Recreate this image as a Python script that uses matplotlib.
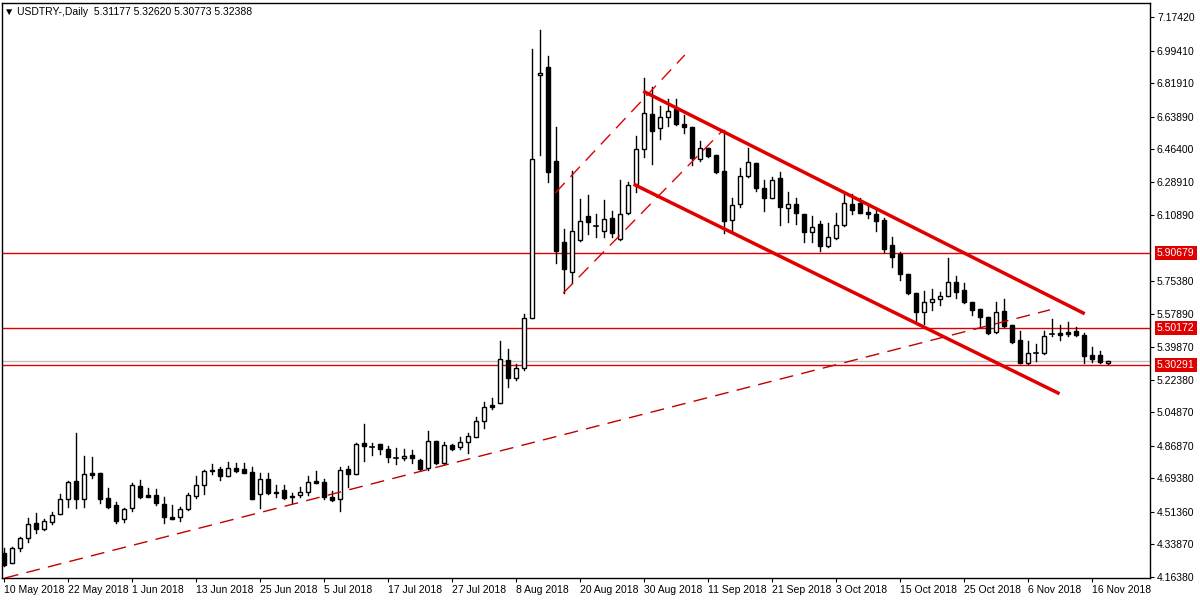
"""USDTRY daily candles with channel and trend lines, MT4 style."""
import matplotlib
matplotlib.use("Agg")
import matplotlib.pyplot as plt
from matplotlib.patches import Rectangle
from matplotlib.transforms import blended_transform_factory

plt.rcParams["font.family"] = ["Liberation Sans", "DejaVu Sans"]

# daily OHLC, 10 May 2018 .. 20 Nov 2018 (trading days only)
opens = [4.293, 4.239, 4.320, 4.374, 4.454, 4.422, 4.460, 4.503, 4.583, 4.680,
         4.583, 4.723, 4.723, 4.588, 4.551, 4.476, 4.535, 4.653, 4.604, 4.604,
         4.556, 4.486, 4.486, 4.530, 4.599, 4.658, 4.733, 4.744, 4.707, 4.750,
         4.744, 4.728, 4.610, 4.691, 4.621, 4.631, 4.594, 4.604, 4.621, 4.680,
         4.675, 4.594, 4.583, 4.744, 4.717, 4.884, 4.862, 4.878, 4.852, 4.803,
         4.803, 4.820, 4.793, 4.750, 4.895, 4.776, 4.873, 4.862, 4.889, 4.916,
         5.002, 5.088, 5.099, 5.330, 5.233, 5.287, 5.556, 6.862, 6.905, 6.400,
         5.965, 5.803, 5.975, 6.104, 6.050, 6.024, 6.093, 5.981, 6.120, 6.276,
         6.464, 6.653, 6.577, 6.636, 6.680, 6.599, 6.583, 6.411, 6.470, 6.432,
         6.346, 6.083, 6.169, 6.319, 6.389, 6.255, 6.201, 6.309, 6.147, 6.169,
         6.115, 6.018, 6.061, 5.943, 5.986, 6.056, 6.169, 6.174, 6.126, 6.115,
         6.083, 5.948, 5.900, 5.793, 5.690, 5.588, 5.642, 5.658, 5.674, 5.749,
         5.706, 5.642, 5.604, 5.561, 5.481, 5.593, 5.518, 5.438, 5.314, 5.368,
         5.368, 5.470, 5.475, 5.481, 5.486, 5.465, 5.357, 5.357, 5.31177]
highs = [4.320, 4.325, 4.379, 4.481, 4.508, 4.476, 4.513, 4.610, 4.680, 4.938,
         4.814, 4.809, 4.723, 4.642, 4.567, 4.535, 4.669, 4.685, 4.642, 4.637,
         4.594, 4.551, 4.540, 4.615, 4.707, 4.739, 4.771, 4.755, 4.782, 4.776,
         4.776, 4.755, 4.723, 4.723, 4.658, 4.658, 4.615, 4.647, 4.707, 4.733,
         4.691, 4.626, 4.755, 4.760, 4.884, 4.986, 4.884, 4.878, 4.868, 4.857,
         4.852, 4.846, 4.798, 4.949, 4.895, 4.889, 4.878, 4.916, 4.938, 5.024,
         5.104, 5.126, 5.432, 5.389, 5.309, 5.577, 7.002, 7.104, 6.964, 6.583,
         6.034, 6.346, 6.195, 6.217, 6.115, 6.190, 6.131, 6.298, 6.287, 6.534,
         6.846, 6.798, 6.696, 6.733, 6.733, 6.647, 6.583, 6.507, 6.470, 6.432,
         6.567, 6.201, 6.362, 6.470, 6.389, 6.298, 6.314, 6.341, 6.233, 6.201,
         6.115, 6.104, 6.077, 6.067, 6.120, 6.233, 6.223, 6.201, 6.169, 6.147,
         6.093, 5.991, 5.911, 5.793, 5.690, 5.701, 5.712, 5.696, 5.878, 5.782,
         5.744, 5.642, 5.604, 5.561, 5.642, 5.658, 5.518, 5.486, 5.432, 5.416,
         5.486, 5.550, 5.518, 5.534, 5.508, 5.475, 5.400, 5.379, 5.32620]
lows = [4.223, 4.239, 4.304, 4.352, 4.400, 4.417, 4.449, 4.503, 4.540, 4.535,
        4.540, 4.696, 4.560, 4.535, 4.454, 4.460, 4.519, 4.588, 4.594, 4.551,
        4.454, 4.476, 4.465, 4.524, 4.588, 4.610, 4.717, 4.685, 4.707, 4.728,
        4.723, 4.583, 4.535, 4.610, 4.594, 4.583, 4.562, 4.594, 4.604, 4.669,
        4.583, 4.573, 4.519, 4.647, 4.717, 4.787, 4.820, 4.825, 4.782, 4.771,
        4.793, 4.776, 4.739, 4.739, 4.771, 4.771, 4.846, 4.852, 4.830, 4.916,
        4.965, 5.067, 5.099, 5.185, 5.222, 5.276, 5.556, 6.432, 6.287, 5.852,
        5.690, 5.744, 5.970, 6.008, 5.991, 5.991, 5.991, 5.975, 6.115, 6.233,
        6.421, 6.384, 6.518, 6.588, 6.594, 6.550, 6.379, 6.400, 6.421, 6.335,
        6.013, 6.024, 6.153, 6.314, 6.239, 6.131, 6.201, 6.056, 6.072, 6.061,
        5.965, 5.965, 5.916, 5.938, 5.981, 6.050, 6.115, 6.120, 6.093, 6.024,
        5.911, 5.830, 5.760, 5.685, 5.534, 5.524, 5.599, 5.626, 5.674, 5.664,
        5.637, 5.572, 5.508, 5.470, 5.475, 5.508, 5.422, 5.314, 5.309, 5.325,
        5.363, 5.459, 5.438, 5.459, 5.459, 5.314, 5.320, 5.314, 5.30773]
closes = [4.228, 4.320, 4.374, 4.449, 4.422, 4.465, 4.497, 4.583, 4.675, 4.583,
          4.718, 4.712, 4.583, 4.540, 4.465, 4.530, 4.658, 4.594, 4.594, 4.562,
          4.486, 4.476, 4.530, 4.604, 4.658, 4.733, 4.739, 4.707, 4.750, 4.733,
          4.723, 4.583, 4.691, 4.615, 4.615, 4.588, 4.599, 4.621, 4.675, 4.669,
          4.594, 4.578, 4.739, 4.717, 4.878, 4.868, 4.860, 4.852, 4.809, 4.805,
          4.814, 4.803, 4.744, 4.895, 4.776, 4.873, 4.852, 4.889, 4.921, 5.002,
          5.078, 5.078, 5.336, 5.233, 5.287, 5.556, 6.411, 6.873, 6.341, 5.916,
          5.819, 6.024, 6.077, 6.072, 6.052, 6.088, 6.013, 6.115, 6.271, 6.464,
          6.658, 6.561, 6.636, 6.669, 6.599, 6.583, 6.416, 6.470, 6.427, 6.341,
          6.077, 6.163, 6.319, 6.395, 6.255, 6.201, 6.298, 6.153, 6.169, 6.120,
          6.018, 6.045, 5.943, 5.991, 6.056, 6.174, 6.136, 6.120, 6.115, 6.077,
          5.927, 5.884, 5.793, 5.690, 5.588, 5.642, 5.658, 5.674, 5.749, 5.696,
          5.642, 5.599, 5.561, 5.475, 5.588, 5.513, 5.427, 5.314, 5.368, 5.370,
          5.459, 5.468, 5.465, 5.470, 5.465, 5.352, 5.336, 5.320, 5.32388]

date_pos = [0, 8, 16, 24, 32, 40, 48, 56, 64, 72, 80, 88, 96, 104, 112, 120, 128, 136]
date_labels = ["10 May 2018", "22 May 2018", "1 Jun 2018", "13 Jun 2018", "25 Jun 2018",
               "5 Jul 2018", "17 Jul 2018", "27 Jul 2018", "8 Aug 2018", "20 Aug 2018",
               "30 Aug 2018", "11 Sep 2018", "21 Sep 2018", "3 Oct 2018", "15 Oct 2018",
               "25 Oct 2018", "6 Nov 2018", "16 Nov 2018"]
price_ticks = [7.17420, 6.99410, 6.81910, 6.63890, 6.46400, 6.28910, 6.10890,
               5.75380, 5.57890, 5.39870, 5.22380, 5.04870, 4.86870, 4.69380,
               4.51360, 4.33870, 4.16380]
levels = [5.90679, 5.50172, 5.30291]
bid = 5.32388

# drawn objects: (index, price) endpoints
trend_long = [(0.1, 4.158), (130.75, 5.600)]
channel_top = [(80.1, 6.771), (134.9, 5.583)]
channel_bottom = [(78.9, 6.271), (131.75, 5.153)]
rise_upper = [(68.9, 6.228), (85.1, 6.970)]
rise_lower = [(69.9, 5.690), (89.9, 6.567)]

RED = "#e00000"

fig = plt.figure(figsize=(12, 6), dpi=100)
ax = fig.add_axes([2 / 1200, 22 / 600, 1148 / 1200, 575 / 600])
ax.set_xlim(-0.25, 143.25)
ax.set_ylim(4.1584, 7.2495)

for i, (o, h, l, c) in enumerate(zip(opens, highs, lows, closes)):
    ax.plot([i, i], [l, h], color="black", lw=1, zorder=3)
    lo, hi = min(o, c), max(o, c)
    face = "white" if c >= o else "black"
    if hi - lo < 0.003:
        ax.plot([i - 0.3, i + 0.3], [o, o], color="black", lw=1.2, zorder=4)
    else:
        ax.add_patch(Rectangle((i - 0.3, lo), 0.6, hi - lo, facecolor=face,
                               edgecolor="black", lw=1, zorder=4))

for lv in levels:
    ax.axhline(lv, color=RED, lw=1, zorder=2)
ax.axhline(bid, color="#c0c0c0", lw=1, zorder=1)


def seg(pts, **kw):
    ax.plot([pts[0][0], pts[1][0]], [pts[0][1], pts[1][1]], zorder=5, **kw)


seg(trend_long, color="#c00000", lw=1, dashes=(10, 6))
seg(rise_upper, color="#e00000", lw=1, dashes=(10, 6))
seg(rise_lower, color="#e00000", lw=1, dashes=(10, 6))
seg(channel_top, color=RED, lw=2.5)
seg(channel_bottom, color=RED, lw=2.5)

ax.yaxis.tick_right()
ax.set_yticks(price_ticks)
ax.set_yticklabels([f"{t:.5f}" for t in price_ticks], fontsize=7.5)
ax.set_xticks(date_pos)
ax.set_xticklabels(date_labels, fontsize=7.5, ha="left")
ax.tick_params(axis="both", length=3, width=0.8, colors="black", pad=2)
for s in ax.spines.values():
    s.set_linewidth(1)

tr = blended_transform_factory(ax.transAxes, ax.transData)
for lv in levels:
    ax.text(1.006, lv, f"{lv:.5f}", transform=tr, fontsize=7.5, color="white",
            va="center", ha="left",
            bbox=dict(facecolor=RED, edgecolor="none", pad=1.5), zorder=10)

ax.text(0.002, 0.993, "▼ USDTRY-,Daily  5.31177 5.32620 5.30773 5.32388",
        transform=ax.transAxes, fontsize=7.5, va="top", ha="left")

fig.savefig("out.png", dpi=100)
